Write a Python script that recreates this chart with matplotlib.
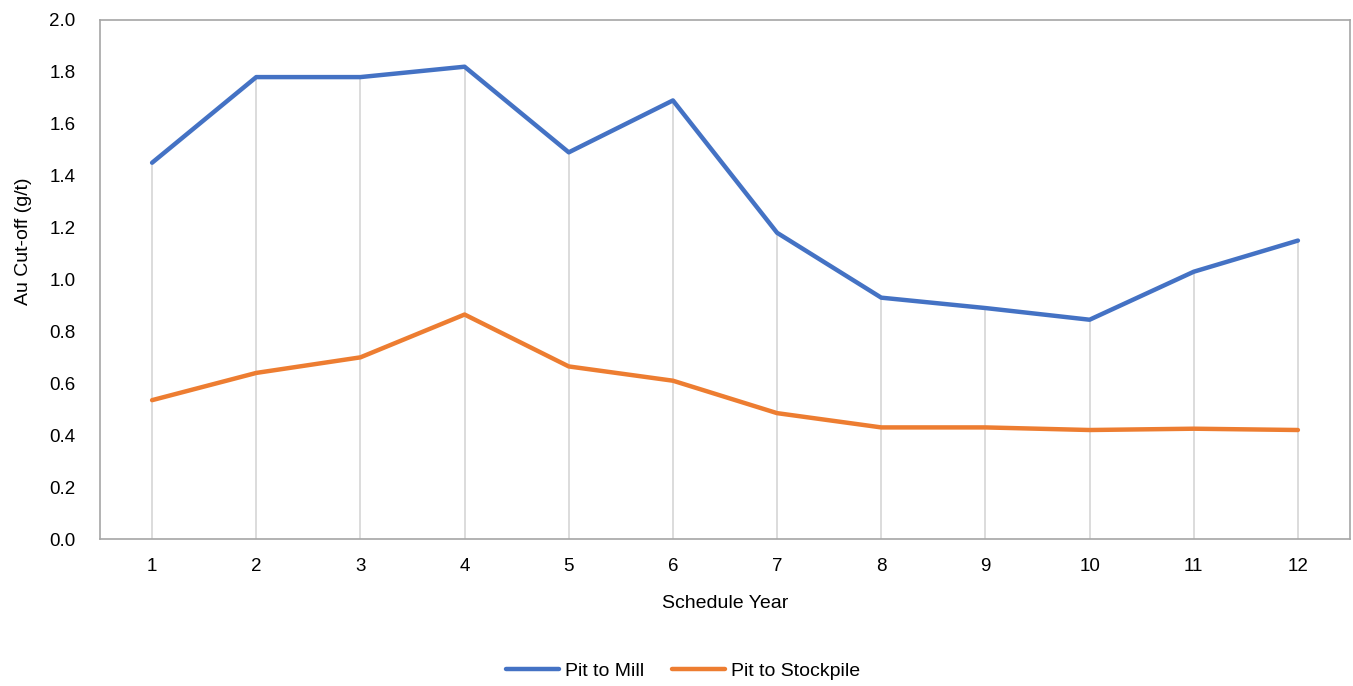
import matplotlib
matplotlib.use("Agg")
import matplotlib.pyplot as plt

plt.rcParams['font.family'] = ['Liberation Sans', 'DejaVu Sans']

years = list(range(1, 13))
pit_to_mill = [1.45, 1.78, 1.78, 1.82, 1.49, 1.69, 1.18, 0.93, 0.89, 0.845, 1.03, 1.15]
pit_to_stockpile = [0.535, 0.64, 0.70, 0.865, 0.665, 0.61, 0.485, 0.43, 0.43, 0.42, 0.425, 0.42]
y_ticks = [0.0, 0.2, 0.4, 0.6, 0.8, 1.0, 1.2, 1.4, 1.6, 1.8, 2.0]

fig = plt.figure(figsize=(13.53, 6.86), dpi=100)
ax = fig.add_axes([100/1353, (686-539)/686, 1250/1353, 519/686])

top = [max(a, b) for a, b in zip(pit_to_mill, pit_to_stockpile)]
ax.vlines(years, 0, top, colors='#d9d9d9', linewidth=1.3, zorder=1)

ax.plot(years, pit_to_mill, color='#4472C4', linewidth=3.2, label='Pit to Mill',
        solid_capstyle='round', solid_joinstyle='round', zorder=3)
ax.plot(years, pit_to_stockpile, color='#ED7D31', linewidth=3.2, label='Pit to Stockpile',
        solid_capstyle='round', solid_joinstyle='round', zorder=3)

ax.set_xlim(0.5, 12.5)
ax.set_ylim(0, 2.0)
ax.set_xticks(years)
ax.set_yticks(y_ticks)
ax.set_yticklabels([f"{v:.1f}" for v in y_ticks])
ax.tick_params(axis='both', length=0, labelsize=13.5, colors='black')
ax.tick_params(axis='x', pad=14)
ax.tick_params(axis='y', pad=17.5)

for s in ax.spines.values():
    s.set_color('#a6a6a6')
    s.set_linewidth(1.2)

ax.set_xlabel('Schedule Year', fontsize=14, labelpad=14)
fig.text(24/1353, 1 - 241/686, 'Au Cut-off (g/t)', rotation=90, ha='center', va='center',
         fontsize=14)

fig.legend(loc='center', bbox_to_anchor=(683/1353, 1 - 671/686), ncol=2, frameon=False,
           fontsize=14, handlelength=2.75, columnspacing=1.4, handletextpad=0.3)

fig.savefig('out.png', dpi=100)
